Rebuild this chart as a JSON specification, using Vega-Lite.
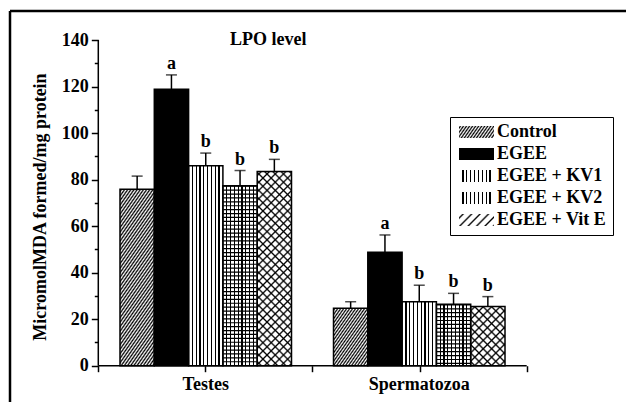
{
"$schema": "https://vega.github.io/schema/vega-lite/v6.json",
"width": 616, "height": 391,
"autosize": {"type": "none"},
"padding": {"left": 10, "top": 11, "right": 0, "bottom": 0},
"background": "#ffffff",
"title": {"text": "LPO level", "anchor": "start", "frame": "group", "orient": "top", "offset": 0, "dx": 220, "dy": 53, "baseline": "alphabetic", "font": "Liberation Serif", "fontSize": 18, "fontWeight": "bold", "color": "#000"},
"data": {"values": [
{"organ":"Testes","group":"Control","mean":75.8,"upper":81.5,"letter":""},
{"organ":"Testes","group":"EGEE","mean":118.8,"upper":125.0,"letter":"a"},
{"organ":"Testes","group":"EGEE + KV1","mean":85.9,"upper":91.4,"letter":"b"},
{"organ":"Testes","group":"EGEE + KV2","mean":77.4,"upper":83.9,"letter":"b"},
{"organ":"Testes","group":"EGEE + Vit E","mean":83.5,"upper":88.7,"letter":"b"},
{"organ":"Spermatozoa","group":"Control","mean":24.7,"upper":27.5,"letter":""},
{"organ":"Spermatozoa","group":"EGEE","mean":48.8,"upper":56.2,"letter":"a"},
{"organ":"Spermatozoa","group":"EGEE + KV1","mean":27.5,"upper":34.6,"letter":"b"},
{"organ":"Spermatozoa","group":"EGEE + KV2","mean":26.4,"upper":31.1,"letter":"b"},
{"organ":"Spermatozoa","group":"EGEE + Vit E","mean":25.4,"upper":29.7,"letter":"b"}
]},
"layer": [
{
"encoding": {
  "x": {"field": "organ", "type": "nominal", "scale": {"domain": ["Testes", "Spermatozoa"], "paddingInner": 0.1967, "paddingOuter": 0.54095, "align": 0.4762, "round": false},
        "axis": {"orient": "bottom", "offset": -36.3, "domain": false, "ticks": false, "labelPadding": 10, "labelAngle": 0, "title": null}},
  "xOffset": {"field": "group", "type": "nominal", "scale": {"domain": ["Control", "EGEE", "EGEE + KV1", "EGEE + KV2", "EGEE + Vit E"], "paddingInner": 0, "paddingOuter": 0}}
},
"layer": [
{
 "mark": {"type": "bar", "strokeWidth": 0},
 "encoding": {
  "y": {"field": "mean", "type": "quantitative", "scale": {"domain": [-15.6, 152.47], "nice": false, "zero": false},
        "axis": {"orient": "left", "offset": -88.3, "values": [0,20,40,60,80,100,120,140], "domain": false, "tickSize": 7, "labelPadding": 3, "title": "MicromolMDA formed/mg protein", "titlePadding": 12}},
  "y2": {"datum": 0},
  "fill": {
    "condition": [
      {"test": "datum.group === 'Control' && datum.organ === 'Testes'", "value": {"gradient": "linear", "x1": 0, "y1": 0, "x2": 0.3297, "y2": 1.1863, "stops": [
{"offset":0,"color":"#fff"},{"offset":0.01,"color":"#000"},{"offset":0.02,"color":"#fff"},{"offset":0.03,"color":"#000"},{"offset":0.04,"color":"#fff"},{"offset":0.05,"color":"#000"},{"offset":0.06,"color":"#fff"},{"offset":0.07,"color":"#000"},{"offset":0.08,"color":"#fff"},{"offset":0.09,"color":"#000"},
{"offset":0.1,"color":"#fff"},{"offset":0.11,"color":"#000"},{"offset":0.12,"color":"#fff"},{"offset":0.13,"color":"#000"},{"offset":0.14,"color":"#fff"},{"offset":0.15,"color":"#000"},{"offset":0.16,"color":"#fff"},{"offset":0.17,"color":"#000"},{"offset":0.18,"color":"#fff"},{"offset":0.19,"color":"#000"},
{"offset":0.2,"color":"#fff"},{"offset":0.21,"color":"#000"},{"offset":0.22,"color":"#fff"},{"offset":0.23,"color":"#000"},{"offset":0.24,"color":"#fff"},{"offset":0.25,"color":"#000"},{"offset":0.26,"color":"#fff"},{"offset":0.27,"color":"#000"},{"offset":0.28,"color":"#fff"},{"offset":0.29,"color":"#000"},
{"offset":0.3,"color":"#fff"},{"offset":0.31,"color":"#000"},{"offset":0.32,"color":"#fff"},{"offset":0.33,"color":"#000"},{"offset":0.34,"color":"#fff"},{"offset":0.35,"color":"#000"},{"offset":0.36,"color":"#fff"},{"offset":0.37,"color":"#000"},{"offset":0.38,"color":"#fff"},{"offset":0.39,"color":"#000"},
{"offset":0.4,"color":"#fff"},{"offset":0.41,"color":"#000"},{"offset":0.42,"color":"#fff"},{"offset":0.43,"color":"#000"},{"offset":0.44,"color":"#fff"},{"offset":0.45,"color":"#000"},{"offset":0.46,"color":"#fff"},{"offset":0.47,"color":"#000"},{"offset":0.48,"color":"#fff"},{"offset":0.49,"color":"#000"},
{"offset":0.5,"color":"#fff"},{"offset":0.51,"color":"#000"},{"offset":0.52,"color":"#fff"},{"offset":0.53,"color":"#000"},{"offset":0.54,"color":"#fff"},{"offset":0.55,"color":"#000"},{"offset":0.56,"color":"#fff"},{"offset":0.57,"color":"#000"},{"offset":0.58,"color":"#fff"},{"offset":0.59,"color":"#000"},
{"offset":0.6,"color":"#fff"},{"offset":0.61,"color":"#000"},{"offset":0.62,"color":"#fff"},{"offset":0.63,"color":"#000"},{"offset":0.64,"color":"#fff"},{"offset":0.65,"color":"#000"},{"offset":0.66,"color":"#fff"},{"offset":0.67,"color":"#000"},{"offset":0.68,"color":"#fff"},{"offset":0.69,"color":"#000"},
{"offset":0.7,"color":"#fff"},{"offset":0.71,"color":"#000"},{"offset":0.72,"color":"#fff"},{"offset":0.73,"color":"#000"},{"offset":0.74,"color":"#fff"},{"offset":0.75,"color":"#000"},{"offset":0.76,"color":"#fff"},{"offset":0.77,"color":"#000"},{"offset":0.78,"color":"#fff"},{"offset":0.79,"color":"#000"},
{"offset":0.8,"color":"#fff"},{"offset":0.81,"color":"#000"},{"offset":0.82,"color":"#fff"},{"offset":0.83,"color":"#000"},{"offset":0.84,"color":"#fff"},{"offset":0.85,"color":"#000"},{"offset":0.86,"color":"#fff"},{"offset":0.87,"color":"#000"},{"offset":0.88,"color":"#fff"},{"offset":0.89,"color":"#000"},
{"offset":0.9,"color":"#fff"},{"offset":0.91,"color":"#000"},{"offset":0.92,"color":"#fff"},{"offset":0.93,"color":"#000"},{"offset":0.94,"color":"#fff"},{"offset":0.95,"color":"#000"},{"offset":0.96,"color":"#fff"},{"offset":0.97,"color":"#000"},{"offset":0.98,"color":"#fff"},{"offset":0.99,"color":"#000"},
{"offset":1,"color":"#fff"}]}},
      {"test": "datum.group === 'Control'", "value": {"gradient": "linear", "x1": 0, "y1": 0, "x2": 0.9143, "y2": 1.073, "stops": [
{"offset":0,"color":"#fff"},{"offset":0.02,"color":"#000"},{"offset":0.04,"color":"#fff"},{"offset":0.06,"color":"#000"},{"offset":0.08,"color":"#fff"},{"offset":0.1,"color":"#000"},{"offset":0.12,"color":"#fff"},{"offset":0.14,"color":"#000"},{"offset":0.16,"color":"#fff"},{"offset":0.18,"color":"#000"},
{"offset":0.2,"color":"#fff"},{"offset":0.22,"color":"#000"},{"offset":0.24,"color":"#fff"},{"offset":0.26,"color":"#000"},{"offset":0.28,"color":"#fff"},{"offset":0.3,"color":"#000"},{"offset":0.32,"color":"#fff"},{"offset":0.34,"color":"#000"},{"offset":0.36,"color":"#fff"},{"offset":0.38,"color":"#000"},
{"offset":0.4,"color":"#fff"},{"offset":0.42,"color":"#000"},{"offset":0.44,"color":"#fff"},{"offset":0.46,"color":"#000"},{"offset":0.48,"color":"#fff"},{"offset":0.5,"color":"#000"},{"offset":0.52,"color":"#fff"},{"offset":0.54,"color":"#000"},{"offset":0.56,"color":"#fff"},{"offset":0.58,"color":"#000"},
{"offset":0.6,"color":"#fff"},{"offset":0.62,"color":"#000"},{"offset":0.64,"color":"#fff"},{"offset":0.66,"color":"#000"},{"offset":0.68,"color":"#fff"},{"offset":0.7,"color":"#000"},{"offset":0.72,"color":"#fff"},{"offset":0.74,"color":"#000"},{"offset":0.76,"color":"#fff"},{"offset":0.78,"color":"#000"},
{"offset":0.8,"color":"#fff"},{"offset":0.82,"color":"#000"},{"offset":0.84,"color":"#fff"},{"offset":0.86,"color":"#000"},{"offset":0.88,"color":"#fff"},{"offset":0.9,"color":"#000"},{"offset":0.92,"color":"#fff"},{"offset":0.94,"color":"#000"},{"offset":0.96,"color":"#fff"},{"offset":0.98,"color":"#000"},
{"offset":1,"color":"#fff"}]}},
      {"test": "datum.group === 'EGEE + KV1' || datum.group === 'EGEE + KV2'", "value": {"gradient": "linear", "x1": 0, "y1": 0, "x2": 1, "y2": 0, "stops": [
{"offset":0,"color":"#fff"},
{"offset":0.0936,"color":"#fff"},{"offset":0.0936,"color":"#000"},{"offset":0.1286,"color":"#000"},{"offset":0.1286,"color":"#fff"},
{"offset":0.2047,"color":"#fff"},{"offset":0.2047,"color":"#000"},{"offset":0.2397,"color":"#000"},{"offset":0.2397,"color":"#fff"},
{"offset":0.3158,"color":"#fff"},{"offset":0.3158,"color":"#000"},{"offset":0.3508,"color":"#000"},{"offset":0.3508,"color":"#fff"},
{"offset":0.4269,"color":"#fff"},{"offset":0.4269,"color":"#000"},{"offset":0.4619,"color":"#000"},{"offset":0.4619,"color":"#fff"},
{"offset":0.5381,"color":"#fff"},{"offset":0.5381,"color":"#000"},{"offset":0.5731,"color":"#000"},{"offset":0.5731,"color":"#fff"},
{"offset":0.6492,"color":"#fff"},{"offset":0.6492,"color":"#000"},{"offset":0.6842,"color":"#000"},{"offset":0.6842,"color":"#fff"},
{"offset":0.7603,"color":"#fff"},{"offset":0.7603,"color":"#000"},{"offset":0.7953,"color":"#000"},{"offset":0.7953,"color":"#fff"},
{"offset":0.8714,"color":"#fff"},{"offset":0.8714,"color":"#000"},{"offset":0.9064,"color":"#000"},{"offset":0.9064,"color":"#fff"},
{"offset":1,"color":"#fff"}]}},
      {"test": "datum.group === 'EGEE'", "value": "#000"}
    ],
    "value": "#fff"
  }
 }
},
{
 "mark": {"type": "point", "opacity": 0, "filled": true, "stroke": "#000", "strokeWidth": 1,
   "fill": {"expr": "datum.value === 'EGEE' ? '#000' : datum.value === 'Control' ? {gradient:'linear',x1:0,y1:0,x2:1.1724,y2:0.2814,stops:[{offset:0,color:'#fff'},{offset:0.035,color:'#000'},{offset:0.07,color:'#fff'},{offset:0.105,color:'#000'},{offset:0.14,color:'#fff'},{offset:0.175,color:'#000'},{offset:0.21,color:'#fff'},{offset:0.245,color:'#000'},{offset:0.28,color:'#fff'},{offset:0.315,color:'#000'},{offset:0.35,color:'#fff'},{offset:0.385,color:'#000'},{offset:0.42,color:'#fff'},{offset:0.455,color:'#000'},{offset:0.49,color:'#fff'},{offset:0.525,color:'#000'},{offset:0.56,color:'#fff'},{offset:0.595,color:'#000'},{offset:0.63,color:'#fff'},{offset:0.665,color:'#000'},{offset:0.7,color:'#fff'},{offset:0.735,color:'#000'},{offset:0.77,color:'#fff'},{offset:0.805,color:'#000'},{offset:0.84,color:'#fff'},{offset:0.875,color:'#000'},{offset:0.91,color:'#fff'},{offset:0.945,color:'#000'},{offset:0.98,color:'#fff'}]} : datum.value === 'EGEE + Vit E' ? {gradient:'linear',x1:0,y1:0,x2:1.2009,y2:0.4081,stops:[{offset:0,color:'#fff'},{offset:0.05,color:'#fff'},{offset:0.09,color:'#000'},{offset:0.13,color:'#fff'},{offset:0.23,color:'#fff'},{offset:0.27,color:'#000'},{offset:0.31,color:'#fff'},{offset:0.41,color:'#fff'},{offset:0.45,color:'#000'},{offset:0.49,color:'#fff'},{offset:0.59,color:'#fff'},{offset:0.63,color:'#000'},{offset:0.67,color:'#fff'},{offset:0.77,color:'#fff'},{offset:0.81,color:'#000'},{offset:0.85,color:'#fff'},{offset:0.95,color:'#fff'},{offset:0.99,color:'#000'},{offset:1,color:'#fff'}]} : {gradient:'linear',x1:0,y1:0,x2:1,y2:0,stops:[{offset:0,color:'#fff'},{offset:0.0936,color:'#fff'},{offset:0.0936,color:'#000'},{offset:0.1286,color:'#000'},{offset:0.1286,color:'#fff'},{offset:0.2047,color:'#fff'},{offset:0.2047,color:'#000'},{offset:0.2397,color:'#000'},{offset:0.2397,color:'#fff'},{offset:0.3158,color:'#fff'},{offset:0.3158,color:'#000'},{offset:0.3508,color:'#000'},{offset:0.3508,color:'#fff'},{offset:0.4269,color:'#fff'},{offset:0.4269,color:'#000'},{offset:0.4619,color:'#000'},{offset:0.4619,color:'#fff'},{offset:0.5381,color:'#fff'},{offset:0.5381,color:'#000'},{offset:0.5731,color:'#000'},{offset:0.5731,color:'#fff'},{offset:0.6492,color:'#fff'},{offset:0.6492,color:'#000'},{offset:0.6842,color:'#000'},{offset:0.6842,color:'#fff'},{offset:0.7603,color:'#fff'},{offset:0.7603,color:'#000'},{offset:0.7953,color:'#000'},{offset:0.7953,color:'#fff'},{offset:0.8714,color:'#fff'},{offset:0.8714,color:'#000'},{offset:0.9064,color:'#000'},{offset:0.9064,color:'#fff'},{offset:1,color:'#fff'}]}"}},
 "encoding": {
  "y": {"field": "mean", "type": "quantitative", "scale": {"domain": [-15.6, 152.47], "nice": false, "zero": false}},
  "shape": {"field": "group", "type": "nominal",
    "scale": {"domain": ["Control", "EGEE", "EGEE + KV1", "EGEE + KV2", "EGEE + Vit E"], "range": ["M-1,-1H4.833V1H-1Z", "M-1,-1H4.833V1H-1Z", "M-1,-1H4.833V1H-1Z", "M-1,-1H4.833V1H-1Z", "M-1,-1H4.833V1H-1Z"]},
    "legend": {"title": null, "orient": "none", "legendX": 440, "legendY": 106, "direction": "vertical",
      "symbolSize": 144, "symbolStrokeColor": "#000", "symbolStrokeWidth": 1, "symbolOpacity": 1,
      "labelFont": "Liberation Serif", "labelFontSize": 18, "labelFontWeight": "bold", "labelColor": "#000", "labelOffset": 23, "labelLimit": 300,
      "rowPadding": 4, "padding": 6, "strokeColor": "#000", "fillColor": "#fff",
      "encode": {"legend": {"update": {"strokeWidth": {"value": 1.5}}},
                 "symbols": {"update": {"stroke": {"value": "#000"}, "strokeWidth": {"value": 1}, "strokeOpacity": {"value": 1}}}}
    }
  }
 }
},
{
 "transform": [{"filter": "datum.group === 'EGEE + Vit E'"}],
 "mark": {"type": "bar", "strokeWidth": 0},
 "encoding": {
  "y": {"field": "mean", "type": "quantitative", "scale": {"domain": [-15.6, 152.47], "nice": false, "zero": false}},
  "y2": {"datum": 0},
  "fill": {"condition": {"test": "datum.organ === 'Testes'", "value": {"gradient": "linear", "x1": 0, "y1": 0, "x2": 0.2017, "y2": 1.1411, "stops": [
{"offset":0.010,"color":"rgba(0,0,0,0)"},{"offset":0.018,"color":"#000"},{"offset":0.026,"color":"rgba(0,0,0,0)"},
{"offset":0.046,"color":"rgba(0,0,0,0)"},{"offset":0.054,"color":"#000"},{"offset":0.062,"color":"rgba(0,0,0,0)"},
{"offset":0.082,"color":"rgba(0,0,0,0)"},{"offset":0.090,"color":"#000"},{"offset":0.098,"color":"rgba(0,0,0,0)"},
{"offset":0.118,"color":"rgba(0,0,0,0)"},{"offset":0.126,"color":"#000"},{"offset":0.134,"color":"rgba(0,0,0,0)"},
{"offset":0.154,"color":"rgba(0,0,0,0)"},{"offset":0.162,"color":"#000"},{"offset":0.170,"color":"rgba(0,0,0,0)"},
{"offset":0.190,"color":"rgba(0,0,0,0)"},{"offset":0.198,"color":"#000"},{"offset":0.206,"color":"rgba(0,0,0,0)"},
{"offset":0.226,"color":"rgba(0,0,0,0)"},{"offset":0.234,"color":"#000"},{"offset":0.242,"color":"rgba(0,0,0,0)"},
{"offset":0.262,"color":"rgba(0,0,0,0)"},{"offset":0.270,"color":"#000"},{"offset":0.278,"color":"rgba(0,0,0,0)"},
{"offset":0.298,"color":"rgba(0,0,0,0)"},{"offset":0.306,"color":"#000"},{"offset":0.314,"color":"rgba(0,0,0,0)"},
{"offset":0.334,"color":"rgba(0,0,0,0)"},{"offset":0.342,"color":"#000"},{"offset":0.350,"color":"rgba(0,0,0,0)"},
{"offset":0.370,"color":"rgba(0,0,0,0)"},{"offset":0.378,"color":"#000"},{"offset":0.386,"color":"rgba(0,0,0,0)"},
{"offset":0.406,"color":"rgba(0,0,0,0)"},{"offset":0.414,"color":"#000"},{"offset":0.422,"color":"rgba(0,0,0,0)"},
{"offset":0.442,"color":"rgba(0,0,0,0)"},{"offset":0.450,"color":"#000"},{"offset":0.458,"color":"rgba(0,0,0,0)"},
{"offset":0.478,"color":"rgba(0,0,0,0)"},{"offset":0.486,"color":"#000"},{"offset":0.494,"color":"rgba(0,0,0,0)"},
{"offset":0.514,"color":"rgba(0,0,0,0)"},{"offset":0.522,"color":"#000"},{"offset":0.530,"color":"rgba(0,0,0,0)"},
{"offset":0.550,"color":"rgba(0,0,0,0)"},{"offset":0.558,"color":"#000"},{"offset":0.566,"color":"rgba(0,0,0,0)"},
{"offset":0.586,"color":"rgba(0,0,0,0)"},{"offset":0.594,"color":"#000"},{"offset":0.602,"color":"rgba(0,0,0,0)"},
{"offset":0.622,"color":"rgba(0,0,0,0)"},{"offset":0.630,"color":"#000"},{"offset":0.638,"color":"rgba(0,0,0,0)"},
{"offset":0.658,"color":"rgba(0,0,0,0)"},{"offset":0.666,"color":"#000"},{"offset":0.674,"color":"rgba(0,0,0,0)"},
{"offset":0.694,"color":"rgba(0,0,0,0)"},{"offset":0.702,"color":"#000"},{"offset":0.710,"color":"rgba(0,0,0,0)"},
{"offset":0.730,"color":"rgba(0,0,0,0)"},{"offset":0.738,"color":"#000"},{"offset":0.746,"color":"rgba(0,0,0,0)"},
{"offset":0.766,"color":"rgba(0,0,0,0)"},{"offset":0.774,"color":"#000"},{"offset":0.782,"color":"rgba(0,0,0,0)"},
{"offset":0.802,"color":"rgba(0,0,0,0)"},{"offset":0.810,"color":"#000"},{"offset":0.818,"color":"rgba(0,0,0,0)"},
{"offset":0.838,"color":"rgba(0,0,0,0)"},{"offset":0.846,"color":"#000"},{"offset":0.854,"color":"rgba(0,0,0,0)"},
{"offset":0.874,"color":"rgba(0,0,0,0)"},{"offset":0.882,"color":"#000"},{"offset":0.890,"color":"rgba(0,0,0,0)"},
{"offset":0.910,"color":"rgba(0,0,0,0)"},{"offset":0.918,"color":"#000"},{"offset":0.926,"color":"rgba(0,0,0,0)"},
{"offset":0.946,"color":"rgba(0,0,0,0)"},{"offset":0.954,"color":"#000"},{"offset":0.962,"color":"rgba(0,0,0,0)"},
{"offset":0.982,"color":"rgba(0,0,0,0)"},{"offset":0.990,"color":"#000"},{"offset":0.998,"color":"rgba(0,0,0,0)"}]}},
   "value": {"gradient": "linear", "x1": 0, "y1": 0, "x2": 0.686, "y2": 1.1822, "stops": [
{"offset":0.025,"color":"rgba(0,0,0,0)"},{"offset":0.045,"color":"#000"},{"offset":0.065,"color":"rgba(0,0,0,0)"},
{"offset":0.115,"color":"rgba(0,0,0,0)"},{"offset":0.135,"color":"#000"},{"offset":0.155,"color":"rgba(0,0,0,0)"},
{"offset":0.205,"color":"rgba(0,0,0,0)"},{"offset":0.225,"color":"#000"},{"offset":0.245,"color":"rgba(0,0,0,0)"},
{"offset":0.295,"color":"rgba(0,0,0,0)"},{"offset":0.315,"color":"#000"},{"offset":0.335,"color":"rgba(0,0,0,0)"},
{"offset":0.385,"color":"rgba(0,0,0,0)"},{"offset":0.405,"color":"#000"},{"offset":0.425,"color":"rgba(0,0,0,0)"},
{"offset":0.475,"color":"rgba(0,0,0,0)"},{"offset":0.495,"color":"#000"},{"offset":0.515,"color":"rgba(0,0,0,0)"},
{"offset":0.565,"color":"rgba(0,0,0,0)"},{"offset":0.585,"color":"#000"},{"offset":0.605,"color":"rgba(0,0,0,0)"},
{"offset":0.655,"color":"rgba(0,0,0,0)"},{"offset":0.675,"color":"#000"},{"offset":0.695,"color":"rgba(0,0,0,0)"},
{"offset":0.745,"color":"rgba(0,0,0,0)"},{"offset":0.765,"color":"#000"},{"offset":0.785,"color":"rgba(0,0,0,0)"},
{"offset":0.835,"color":"rgba(0,0,0,0)"},{"offset":0.855,"color":"#000"},{"offset":0.875,"color":"rgba(0,0,0,0)"},
{"offset":0.925,"color":"rgba(0,0,0,0)"},{"offset":0.945,"color":"#000"},{"offset":0.965,"color":"rgba(0,0,0,0)"}]}}
 }
},
{
 "transform": [{"filter": "datum.group === 'EGEE + Vit E'"}],
 "mark": {"type": "bar", "strokeWidth": 0},
 "encoding": {
  "y": {"field": "mean", "type": "quantitative", "scale": {"domain": [-15.6, 152.47], "nice": false, "zero": false}},
  "y2": {"datum": 0},
  "fill": {"condition": {"test": "datum.organ === 'Testes'", "value": {"gradient": "linear", "x1": 0, "y1": 1, "x2": 0.2017, "y2": -0.1411, "stops": [
{"offset":0.010,"color":"rgba(0,0,0,0)"},{"offset":0.018,"color":"#000"},{"offset":0.026,"color":"rgba(0,0,0,0)"},
{"offset":0.046,"color":"rgba(0,0,0,0)"},{"offset":0.054,"color":"#000"},{"offset":0.062,"color":"rgba(0,0,0,0)"},
{"offset":0.082,"color":"rgba(0,0,0,0)"},{"offset":0.090,"color":"#000"},{"offset":0.098,"color":"rgba(0,0,0,0)"},
{"offset":0.118,"color":"rgba(0,0,0,0)"},{"offset":0.126,"color":"#000"},{"offset":0.134,"color":"rgba(0,0,0,0)"},
{"offset":0.154,"color":"rgba(0,0,0,0)"},{"offset":0.162,"color":"#000"},{"offset":0.170,"color":"rgba(0,0,0,0)"},
{"offset":0.190,"color":"rgba(0,0,0,0)"},{"offset":0.198,"color":"#000"},{"offset":0.206,"color":"rgba(0,0,0,0)"},
{"offset":0.226,"color":"rgba(0,0,0,0)"},{"offset":0.234,"color":"#000"},{"offset":0.242,"color":"rgba(0,0,0,0)"},
{"offset":0.262,"color":"rgba(0,0,0,0)"},{"offset":0.270,"color":"#000"},{"offset":0.278,"color":"rgba(0,0,0,0)"},
{"offset":0.298,"color":"rgba(0,0,0,0)"},{"offset":0.306,"color":"#000"},{"offset":0.314,"color":"rgba(0,0,0,0)"},
{"offset":0.334,"color":"rgba(0,0,0,0)"},{"offset":0.342,"color":"#000"},{"offset":0.350,"color":"rgba(0,0,0,0)"},
{"offset":0.370,"color":"rgba(0,0,0,0)"},{"offset":0.378,"color":"#000"},{"offset":0.386,"color":"rgba(0,0,0,0)"},
{"offset":0.406,"color":"rgba(0,0,0,0)"},{"offset":0.414,"color":"#000"},{"offset":0.422,"color":"rgba(0,0,0,0)"},
{"offset":0.442,"color":"rgba(0,0,0,0)"},{"offset":0.450,"color":"#000"},{"offset":0.458,"color":"rgba(0,0,0,0)"},
{"offset":0.478,"color":"rgba(0,0,0,0)"},{"offset":0.486,"color":"#000"},{"offset":0.494,"color":"rgba(0,0,0,0)"},
{"offset":0.514,"color":"rgba(0,0,0,0)"},{"offset":0.522,"color":"#000"},{"offset":0.530,"color":"rgba(0,0,0,0)"},
{"offset":0.550,"color":"rgba(0,0,0,0)"},{"offset":0.558,"color":"#000"},{"offset":0.566,"color":"rgba(0,0,0,0)"},
{"offset":0.586,"color":"rgba(0,0,0,0)"},{"offset":0.594,"color":"#000"},{"offset":0.602,"color":"rgba(0,0,0,0)"},
{"offset":0.622,"color":"rgba(0,0,0,0)"},{"offset":0.630,"color":"#000"},{"offset":0.638,"color":"rgba(0,0,0,0)"},
{"offset":0.658,"color":"rgba(0,0,0,0)"},{"offset":0.666,"color":"#000"},{"offset":0.674,"color":"rgba(0,0,0,0)"},
{"offset":0.694,"color":"rgba(0,0,0,0)"},{"offset":0.702,"color":"#000"},{"offset":0.710,"color":"rgba(0,0,0,0)"},
{"offset":0.730,"color":"rgba(0,0,0,0)"},{"offset":0.738,"color":"#000"},{"offset":0.746,"color":"rgba(0,0,0,0)"},
{"offset":0.766,"color":"rgba(0,0,0,0)"},{"offset":0.774,"color":"#000"},{"offset":0.782,"color":"rgba(0,0,0,0)"},
{"offset":0.802,"color":"rgba(0,0,0,0)"},{"offset":0.810,"color":"#000"},{"offset":0.818,"color":"rgba(0,0,0,0)"},
{"offset":0.838,"color":"rgba(0,0,0,0)"},{"offset":0.846,"color":"#000"},{"offset":0.854,"color":"rgba(0,0,0,0)"},
{"offset":0.874,"color":"rgba(0,0,0,0)"},{"offset":0.882,"color":"#000"},{"offset":0.890,"color":"rgba(0,0,0,0)"},
{"offset":0.910,"color":"rgba(0,0,0,0)"},{"offset":0.918,"color":"#000"},{"offset":0.926,"color":"rgba(0,0,0,0)"},
{"offset":0.946,"color":"rgba(0,0,0,0)"},{"offset":0.954,"color":"#000"},{"offset":0.962,"color":"rgba(0,0,0,0)"},
{"offset":0.982,"color":"rgba(0,0,0,0)"},{"offset":0.990,"color":"#000"},{"offset":0.998,"color":"rgba(0,0,0,0)"}]}},
   "value": {"gradient": "linear", "x1": 0, "y1": 1, "x2": 0.686, "y2": -0.1822, "stops": [
{"offset":0.025,"color":"rgba(0,0,0,0)"},{"offset":0.045,"color":"#000"},{"offset":0.065,"color":"rgba(0,0,0,0)"},
{"offset":0.115,"color":"rgba(0,0,0,0)"},{"offset":0.135,"color":"#000"},{"offset":0.155,"color":"rgba(0,0,0,0)"},
{"offset":0.205,"color":"rgba(0,0,0,0)"},{"offset":0.225,"color":"#000"},{"offset":0.245,"color":"rgba(0,0,0,0)"},
{"offset":0.295,"color":"rgba(0,0,0,0)"},{"offset":0.315,"color":"#000"},{"offset":0.335,"color":"rgba(0,0,0,0)"},
{"offset":0.385,"color":"rgba(0,0,0,0)"},{"offset":0.405,"color":"#000"},{"offset":0.425,"color":"rgba(0,0,0,0)"},
{"offset":0.475,"color":"rgba(0,0,0,0)"},{"offset":0.495,"color":"#000"},{"offset":0.515,"color":"rgba(0,0,0,0)"},
{"offset":0.565,"color":"rgba(0,0,0,0)"},{"offset":0.585,"color":"#000"},{"offset":0.605,"color":"rgba(0,0,0,0)"},
{"offset":0.655,"color":"rgba(0,0,0,0)"},{"offset":0.675,"color":"#000"},{"offset":0.695,"color":"rgba(0,0,0,0)"},
{"offset":0.745,"color":"rgba(0,0,0,0)"},{"offset":0.765,"color":"#000"},{"offset":0.785,"color":"rgba(0,0,0,0)"},
{"offset":0.835,"color":"rgba(0,0,0,0)"},{"offset":0.855,"color":"#000"},{"offset":0.875,"color":"rgba(0,0,0,0)"},
{"offset":0.925,"color":"rgba(0,0,0,0)"},{"offset":0.945,"color":"#000"},{"offset":0.965,"color":"rgba(0,0,0,0)"}]}}
 }
},
{
 "transform": [{"filter": "datum.group === 'EGEE + KV2'"}],
 "mark": {"type": "rule", "strokeWidth": 33.5, "strokeDash": [1.2, 2.7], "strokeCap": "butt", "color": "#000"},
 "encoding": {
  "y": {"field": "mean", "type": "quantitative", "scale": {"domain": [-15.6, 152.47], "nice": false, "zero": false}},
  "y2": {"datum": 0}
 }
},
{
 "mark": {"type": "bar", "fill": "#fff", "fillOpacity": 0, "stroke": "#000", "strokeWidth": 1.5},
 "encoding": {
  "y": {"field": "mean", "type": "quantitative", "scale": {"domain": [-15.6, 152.47], "nice": false, "zero": false}},
  "y2": {"datum": 0}
 }
},
{
 "mark": {"type": "rule", "color": "#000", "strokeWidth": 1.5},
 "encoding": {
  "y": {"field": "mean", "type": "quantitative", "scale": {"domain": [-15.6, 152.47], "nice": false, "zero": false}},
  "y2": {"field": "upper"}
 }
},
{
 "mark": {"type": "tick", "color": "#000", "thickness": 1.5, "orient": "horizontal"},
 "encoding": {
  "y": {"field": "upper", "type": "quantitative", "scale": {"domain": [-15.6, 152.47], "nice": false, "zero": false}},
  "size": {"value": 11}
 }
},
{
 "mark": {"type": "text", "dy": -6, "baseline": "alphabetic", "align": "center", "font": "Liberation Serif", "fontWeight": "bold", "fontSize": 18, "color": "#000"},
 "encoding": {
  "y": {"field": "upper", "type": "quantitative", "scale": {"domain": [-15.6, 152.47], "nice": false, "zero": false}},
  "text": {"field": "letter"}
 }
}
]
},
{
 "data": {"values": [{}]},
 "layer": [
 {
  "mark": {"type": "rule", "color": "#000", "strokeWidth": 1.5},
  "encoding": {
   "x": {"datum": 0.5, "type": "quantitative", "scale": {"domain": [0.0878, 2.9636], "nice": false, "zero": false}},
   "y": {"datum": 0, "type": "quantitative", "scale": {"domain": [-15.6, 152.47], "nice": false, "zero": false},
         "axis": {"orient": "left", "offset": -88.3, "values": [10,30,50,70,90,110,130], "labels": false, "domain": false, "tickSize": 4, "title": null}},
   "y2": {"datum": 140}
  }
 },
 {
  "mark": {"type": "rule", "color": "#000", "strokeWidth": 1.5},
  "encoding": {
   "x": {"datum": 0.5, "type": "quantitative", "scale": {"domain": [0.0878, 2.9636], "nice": false, "zero": false},
         "axis": {"orient": "bottom", "offset": -36.3, "values": [0.5,1,1.5,2,2.5], "labels": false, "domain": false, "tickSize": 6, "title": null}},
   "x2": {"datum": 2.5},
   "y": {"datum": 0, "type": "quantitative", "scale": {"domain": [-15.6, 152.47], "nice": false, "zero": false}}
  }
 },
 {
  "mark": {"type": "rule", "color": "#000", "strokeWidth": 2.5},
  "encoding": {
   "x": {"datum": 0.0878, "type": "quantitative", "scale": {"domain": [0.0878, 2.9636], "nice": false, "zero": false}},
   "y": {"datum": -15.6, "type": "quantitative", "scale": {"domain": [-15.6, 152.47], "nice": false, "zero": false}},
   "y2": {"datum": 152.47}
  }
 },
 {
  "mark": {"type": "rule", "color": "#000", "strokeWidth": 2.5},
  "encoding": {
   "x": {"datum": 0.0878, "type": "quantitative", "scale": {"domain": [0.0878, 2.9636], "nice": false, "zero": false}},
   "x2": {"datum": 2.9636},
   "y": {"datum": 152.47, "type": "quantitative", "scale": {"domain": [-15.6, 152.47], "nice": false, "zero": false}}
  }
 }
 ]
}
],
"resolve": {"scale": {"x": "independent"}, "axis": {"x": "independent", "y": "independent"}},
"config": {
 "font": "Liberation Serif",
 "view": {"stroke": "transparent"},
 "axis": {"labelFont": "Liberation Serif", "labelFontWeight": "bold", "labelFontSize": 18, "labelColor": "#000", "tickColor": "#000", "tickWidth": 1.5, "titleFont": "Liberation Serif", "titleFontWeight": "bold", "titleFontSize": 18, "titleColor": "#000", "grid": false, "domain": false}
}
}
